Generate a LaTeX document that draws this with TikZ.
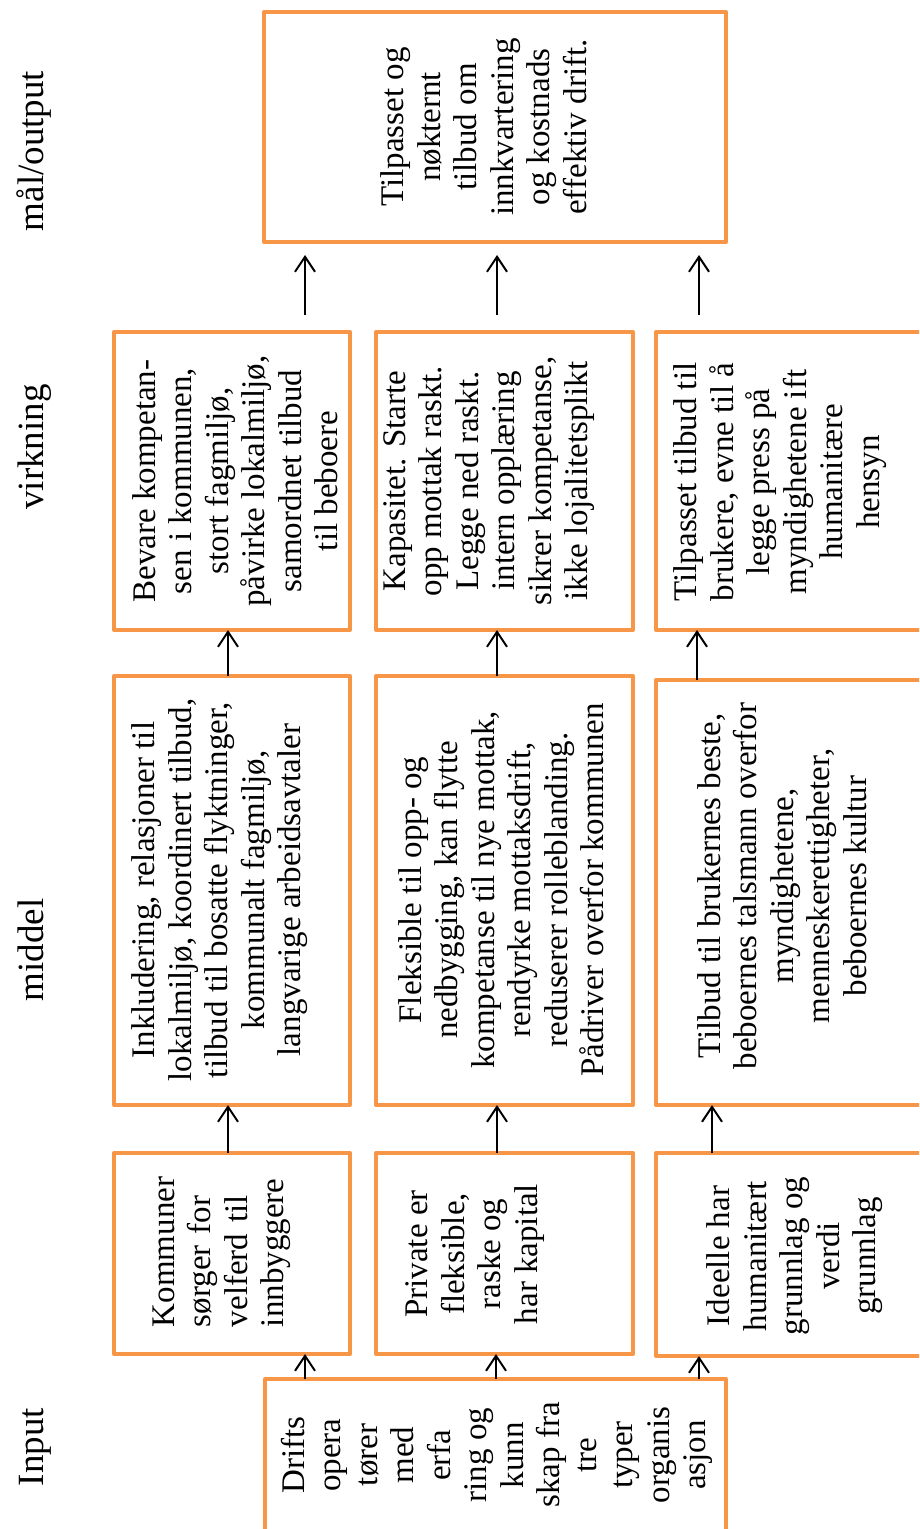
\documentclass[tikz,border=0pt]{standalone}
\usepackage{fontspec}
\setmainfont{Liberation Serif}
\usetikzlibrary{arrows.meta}
\definecolor{boxorange}{RGB}{247,150,70}
\begin{document}
\begin{tikzpicture}[x=1pt,y=-1pt,
  box/.style={draw=boxorange, line width=4pt, line join=round, rectangle, inner sep=0pt, outer sep=0pt},
  txt/.style={rotate=90, align=center, inner sep=0pt, font=\fontsize{33}{36.5}\selectfont},
  lbl/.style={rotate=90, inner sep=0pt, anchor=base, font=\fontsize{37}{40}\selectfont},
  arr/.style={line width=2pt, -{Straight Barb[length=15pt,width=20pt,line width=2pt]}}]
\useasboundingbox (0,0) rectangle (919,1529);
\clip (0,0) rectangle (919,1529);

% column labels
\node[lbl] (lout) at (43,151) {mål/output};
\node[lbl] (lvir) at (43,447) {virkning};
\node[lbl] (lmid) at (43,950) {middel};
\node[lbl] (linp) at (43,1447) {Input};

% boxes
\node[box, minimum width=462pt, minimum height=230pt] (t)  at (495,127) {};
\node[box, minimum width=236pt, minimum height=298pt] (a4) at (232,481) {};
\node[box, minimum width=257pt, minimum height=298pt] (b4) at (504.5,481) {};
\node[box, minimum width=284pt, minimum height=298pt] (c4) at (798,481) {};
\node[box, minimum width=236pt, minimum height=429pt] (a3) at (232,890.5) {};
\node[box, minimum width=257pt, minimum height=429pt] (b3) at (504.5,890.5) {};
\node[box, minimum width=284pt, minimum height=425pt] (c3) at (798,892.5) {};
\node[box, minimum width=236pt, minimum height=201pt] (a2) at (232,1253.5) {};
\node[box, minimum width=257pt, minimum height=201pt] (b2) at (504.5,1253.5) {};
\node[box, minimum width=284pt, minimum height=203pt] (c2) at (798,1254.5) {};
\node[box, minimum width=461pt, minimum height=191pt] (in) at (495.5,1474.5) {};

% texts
\node[txt] (tt) at (484,127) {Tilpasset og\\nøkternt\\tilbud om\\innkvartering\\og kostnads\\effektiv drift.};
\node[txt] (ta4) at (235,481) {Bevare kompetan-\\sen i kommunen,\\stort fagmiljø,\\påvirke lokalmiljø,\\samordnet tilbud\\til beboere};
\node[txt] (tb4) at (489,481) {Kapasitet. Starte\\opp mottak raskt.\\Legge ned raskt.\\intern opplæring\\sikrer kompetanse,\\ikke lojalitetsplikt};
\node[txt] (tc4) at (780,482) {Tilpasset tilbud til\\brukere, evne til å\\legge press på\\myndighetene ift\\humanitære\\hensyn};
\node[txt] (ta3) at (220,890) {Inkludering, relasjoner til\\lokalmiljø, koordinert tilbud,\\tilbud til bosatte flyktninger,\\kommunalt fagmiljø,\\langvarige arbeidsavtaler};
\node[txt] (tb3) at (501,890) {Fleksible til opp- og\\nedbygging, kan flytte\\kompetanse til nye mottak,\\rendyrke mottaksdrift,\\reduserer rolleblanding.\\Pådriver overfor kommunen};
\node[txt] (tc3) at (782,886) {Tilbud til brukernes beste,\\beboernes talsmann overfor\\myndighetene,\\menneskerettigheter,\\beboernes kultur};
\node[txt, text width=148pt] (ta2) at (222,1253) {Kommuner\\\makebox[\linewidth][s]{sørger for}\\\makebox[\linewidth][s]{velferd til}\\innbyggere};
\node[txt] (tb2) at (475,1254) {Private er\\fleksible,\\raske og\\har kapital};
\node[txt] (tc2) at (795,1256) {Ideelle har\\humanitært\\grunnlag og\\verdi\\grunnlag};
\node[txt] (tin) at (497,1455) {Drifts\\opera\\tører\\med\\erfa\\ring og\\kunn\\skap fra\\tre\\typer\\organis\\asjon};

% arrow x positions
\coordinate (x1) at (305,0);
\coordinate (x2) at (496,0);
\coordinate (x3) at (699,0);
\coordinate (y1) at (228,0);
\coordinate (y2) at (497,0);
\coordinate (y3) at (712,0);
\coordinate (z3) at (697,0);

% arrows
\draw[arr] (in.north -| x1) -- (a2.south -| x1);
\draw[arr] (in.north -| x2) -- (b2.south -| x2);
\draw[arr] (in.north -| x3) -- (c2.south -| x3);

\draw[arr] (a2.north -| y1) -- (a3.south -| y1);
\draw[arr] (b2.north -| y2) -- (b3.south -| y2);
\draw[arr] (c2.north -| y3) -- (c3.south -| y3);

\draw[arr] (a3.north -| y1) -- (a4.south -| y1);
\draw[arr] (b3.north -| y2) -- (b4.south -| y2);
\draw[arr] (c3.north -| z3) -- (c4.south -| z3);

\draw[arr, shorten <=17pt, shorten >=13pt] (a4.north -| x1) -- (t.south -| x1);
\draw[arr, shorten <=17pt, shorten >=13pt] (b4.north -| y2) -- (t.south -| y2);
\draw[arr, shorten <=17pt, shorten >=13pt] (c4.north -| x3) -- (t.south -| x3);
\end{tikzpicture}
\end{document}
